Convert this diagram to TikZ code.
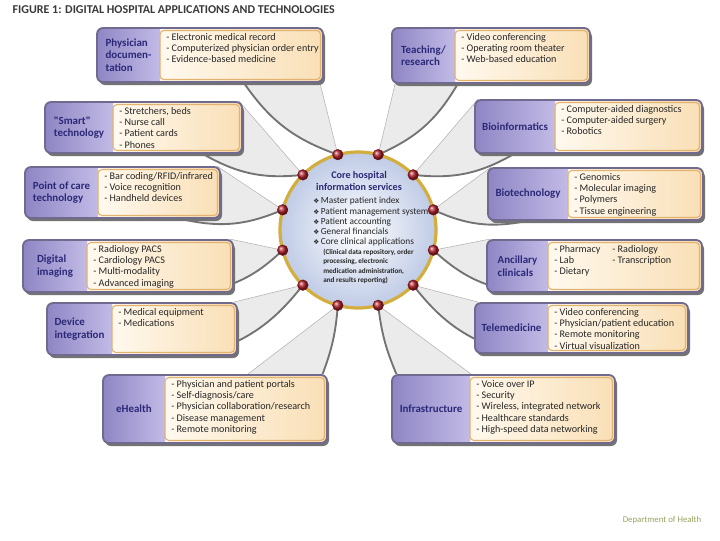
\documentclass[tikz,border=0pt]{standalone}
\usepackage{fontspec}
\setmainfont{Carlito}
\newfontfamily\plainfont{Carlito}[Ligatures=TeXOff]
\newfontfamily\dingfont{DejaVu Sans}
\usetikzlibrary{fit,backgrounds}
\definecolor{frame}{HTML}{6F6A8E}
\definecolor{lavdark}{HTML}{8E86C4}
\definecolor{lavlight}{HTML}{C2BBE6}
\definecolor{creamlight}{HTML}{FFF9EE}
\definecolor{cream}{HTML}{F9DFB6}
\definecolor{edgeor}{HTML}{E2B26E}
\definecolor{labeltext}{HTML}{2B2878}
\definecolor{ringgold}{HTML}{D4AE3C}
\definecolor{hubfill}{HTML}{BFCBE6}
\definecolor{dotred}{HTML}{B3202A}
\definecolor{titlegray}{HTML}{3A3A3A}
\definecolor{footolive}{HTML}{9AA060}

\tikzset{
  boxframe/.style={draw=frame,line width=1.4pt,rounded corners=4.5pt,inner sep=0pt},
  boxshadow/.style={fill=black!55,rounded corners=4.5pt},
  boxlabel/.style={font=\fontsize{8.2}{9.4}\selectfont\bfseries,text=labeltext,align=left,inner sep=0pt},
  boxitems/.style={font=\fontsize{7.6}{8.5}\selectfont,text=black!85,align=left,inner sep=0pt},
  hub/.style={circle,draw=ringgold,line width=2.4pt,inner color=white,outer color=hubfill,minimum size=117pt},
  hubdot/.style={circle,minimum size=8pt,inner sep=0pt,ball color=dotred,draw=dotred!60!black,line width=0.3pt},
  ribbon/.style={fill=black!8},
  ribbonfaint/.style={draw=black!30,line width=0.4pt},
  ribbondark/.style={draw=black!55,line width=1.4pt},
}
\newcommand\bul{{\dingfont\fontsize{5}{5}\selectfont ❖}\,}
\newcommand\appbox[8]{%
  \fill[boxshadow] (#2+2,#3+3) rectangle (#4+2,#5+3);
  \begin{scope}
    \clip[rounded corners=4.5pt] (#2,#3) rectangle (#4,#5);
    \fill[left color=creamlight,right color=cream] (#6,#3) rectangle (#4,#5);
    \fill[left color=lavdark,right color=lavlight] (#2,#3) rectangle (#6,#5);
  \end{scope}
  \draw[edgeor,line width=0.8pt,rounded corners=3pt] (#6,#3+2.5) rectangle (#4-2.5,#5-2.5);
  \node[boxframe,fit={(#2,#3) (#4,#5)}] (#1) {};
  \node[boxlabel] (#1-l) at ({(#2+#6)/2},{(#3+#5)/2}) {#7};
  \node[boxitems,anchor=north west] (#1-i) at (#6+6,#3+5) {#8};
}
\newcommand\ribbon[4]{%
  \fill[ribbon] #1 -- (#3.center) to[#4] #2 -- cycle;
  \draw[ribbonfaint] #1 -- (#3.center);
  \draw[ribbondark] (#3.center) to[#4] #2;
}

\begin{document}
\begin{tikzpicture}[x=0.75pt,y=-0.75pt]
\useasboundingbox (0,0) rectangle (720,540);
\node[anchor=west,font=\fontsize{9}{10}\selectfont\bfseries,text=titlegray] (title) at (8,10) {FIGURE 1: DIGITAL HOSPITAL APPLICATIONS AND TECHNOLOGIES};

\appbox{phys}{97}{28}{323}{82}{160}{Physician\\documen-\\tation}{- Electronic medical record\\- Computerized physician order entry\\- Evidence-based medicine}
\appbox{smart}{45}{102}{242}{153}{113}{{\plainfont"Smart"}\\technology}{- Stretchers, beds\\- Nurse call\\- Patient cards\\- Phones}
\appbox{poc}{25}{167}{220}{218}{98}{Point of care\\technology}{- Bar coding/RFID/infrared\\- Voice recognition\\- Handheld devices}
\appbox{dimg}{23}{240}{233}{292}{87}{Digital\\imaging}{- Radiology PACS\\- Cardiology PACS\\- Multi-modality\\- Advanced imaging}
\appbox{device}{47}{303}{237}{355}{112}{Device\\integration}{- Medical equipment\\- Medications}
\appbox{ehealth}{103}{375}{327}{443}{165}{eHealth}{- Physician and patient portals\\- Self-diagnosis/care\\- Physician collaboration/research\\- Disease management\\- Remote monitoring}
\appbox{teach}{392}{28}{590}{83}{455}{Teaching/\\research}{- Video conferencing\\- Operating room theater\\- Web-based education}
\appbox{bioinf}{475}{100}{702}{153}{555}{Bioinformatics}{- Computer-aided diagnostics\\- Computer-aided surgery\\- Robotics}
\appbox{biotech}{488}{168}{703}{220}{568}{Biotechnology}{- Genomics\\- Molecular imaging\\- Polymers\\- Tissue engineering}
\appbox{ancil}{487}{240}{702}{292}{548}{Ancillary\\clinicals}{- Pharmacy\\- Lab\\- Dietary}
\node[boxitems,anchor=north west] (ancil-j) at (612,245) {- Radiology\\- Transcription};
\appbox{tele}{475}{303}{688}{353}{548}{Telemedicine}{- Video conferencing\\- Physician/patient education\\- Remote monitoring\\- Virtual visualization}
\appbox{infra}{392}{375}{615}{443}{470}{Infrastructure}{- Voice over IP\\- Security\\- Wireless, integrated network\\- Healthcare standards\\- High-speed data networking}

\node[hub] (core) at (358,230) {};
\foreach \a in {15,45,...,345}
  \node[hubdot] (d\a) at ([shift={(-\a:78)}]core.center) {};
\node[font=\fontsize{7.6}{8.4}\selectfont\bfseries,text=labeltext,align=center,inner sep=0pt] (core-t) at (359,181) {Core hospital\\information services};
\node[font=\fontsize{7}{7.7}\selectfont,text=black!85,align=left,inner sep=0pt,anchor=north west] (core-l) at (313,197) {\bul Master patient index\\\bul Patient management system\\\bul Patient accounting\\\bul General financials\\\bul Core clinical applications};
\node[font=\fontsize{5.4}{7}\selectfont\bfseries,text=black!85,align=left,inner sep=0pt,anchor=north west] (core-n) at (323,249) {(Clinical data repository, order\\processing, electronic\\medication administration,\\and results reporting)};

\begin{scope}[on background layer]
\ribbon{([xshift=-3pt]phys.south east)}{([xshift=-60pt]phys.south east)}{d105}{bend left=18}
\ribbon{([xshift=-3pt]smart.north east)}{([xshift=-30pt]smart.south east)}{d135}{bend left=18}
\ribbon{([xshift=-3pt]poc.north east)}{([xshift=-30pt]poc.south east)}{d165}{bend left=18}
\ribbon{([xshift=-3pt]dimg.north east)}{([xshift=-30pt]dimg.south east)}{d195}{bend left=18}
\ribbon{([xshift=-3pt]device.north east)}{([xshift=-30pt]device.south east)}{d225}{bend left=18}
\ribbon{([xshift=-60pt]ehealth.north east)}{([xshift=-4pt]ehealth.north east)}{d255}{bend left=8}
\ribbon{([xshift=3pt]teach.south west)}{([xshift=50pt]teach.south west)}{d75}{bend right=18}
\ribbon{([xshift=3pt]bioinf.north west)}{([xshift=30pt]bioinf.south west)}{d45}{bend right=18}
\ribbon{([xshift=3pt]biotech.north west)}{([xshift=30pt]biotech.south west)}{d15}{bend right=18}
\ribbon{([xshift=3pt]ancil.north west)}{([xshift=30pt]ancil.south west)}{d345}{bend right=18}
\ribbon{([xshift=3pt]tele.north west)}{([xshift=30pt]tele.south west)}{d315}{bend right=18}
\ribbon{([xshift=60pt]infra.north west)}{([xshift=4pt]infra.north west)}{d285}{bend right=8}
\end{scope}

\node[anchor=east,font=\fontsize{6.6}{7}\selectfont,text=footolive] (foot) at (706,520) {Department of Health};
\end{tikzpicture}
\end{document}
